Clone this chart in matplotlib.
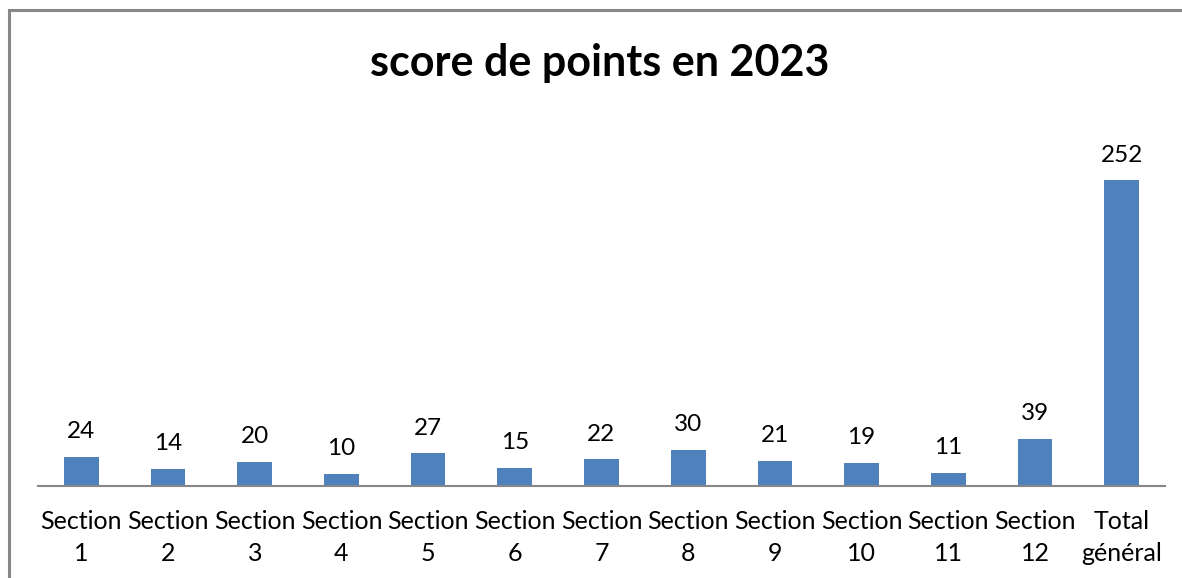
import matplotlib
matplotlib.use("Agg")
import matplotlib.pyplot as plt
from matplotlib.patches import Rectangle

# Data
categories = ["Section\n1", "Section\n2", "Section\n3", "Section\n4", "Section\n5",
              "Section\n6", "Section\n7", "Section\n8", "Section\n9", "Section\n10",
              "Section\n11", "Section\n12", "Total\ngénéral"]
scores = [24, 14, 20, 10, 27, 15, 22, 30, 21, 19, 11, 39, 252]

plt.rcParams['font.family'] = ['Lato', 'DejaVu Sans']

W, H = 1182, 578
fig = plt.figure(figsize=(W / 100, H / 100), dpi=100)
ax = fig.add_axes([38 / W, (H - 486) / H, (1165 - 38) / W, (486 - 122) / H])

x = range(len(categories))
bars = ax.bar(x, scores, width=0.4, color="#4f81bd")
for b, v in zip(bars, scores):
    ax.annotate(str(v), (b.get_x() + b.get_width() / 2, v), xytext=(0, 10.5),
                textcoords="offset points", ha="center", va="bottom", fontsize=17.5)

ax.set_xlim(-0.5, len(categories) - 0.5)
ax.set_ylim(0, 300)
ax.set_xticks(list(x))
ax.set_xticklabels(categories, fontsize=18, linespacing=1.5)
ax.tick_params(axis="x", length=0, pad=17)
ax.set_yticks([])
for s in ["top", "right", "left"]:
    ax.spines[s].set_visible(False)
ax.spines["bottom"].set_color("#878787")
ax.spines["bottom"].set_linewidth(1.5)

fig.text(600 / W, 1 - 63 / H, "score de points en 2023", ha="center", va="center",
         fontsize=31, fontweight="bold")

# outer frame
fig.patches.append(Rectangle((9 / W, -0.1), 1.1, 1 - 9.5 / H + 0.1, transform=fig.transFigure,
                             fill=False, edgecolor="#878787", linewidth=2.2))

fig.savefig("out.png", dpi=100)
